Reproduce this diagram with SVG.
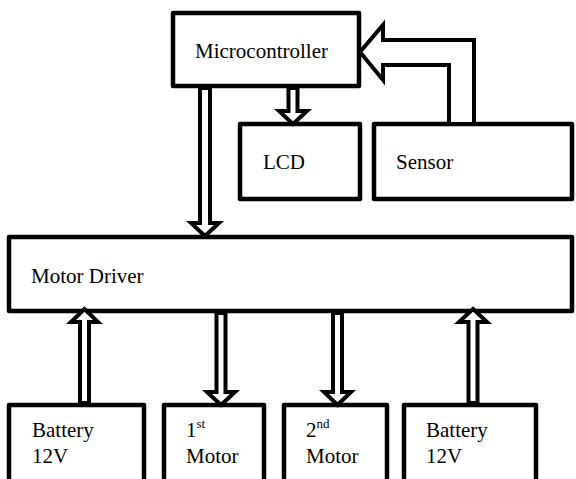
<svg xmlns="http://www.w3.org/2000/svg" width="576" height="479" viewBox="0 0 576 479">
<style>
.box{fill:#fff;stroke:#000;stroke-width:4.5;stroke-linejoin:round}
.arr{fill:#fff;stroke:#000;stroke-width:4;stroke-linejoin:miter;stroke-miterlimit:10}
text{font-family:'Liberation Serif','Times New Roman','DejaVu Serif',serif;font-size:21px;fill:#000}
.sup{font-size:13px}
</style>
<rect width="576" height="479" fill="#fff"/>
<g id="microcontroller"><rect class="box" x="173" y="13" width="186" height="73"/><text font-family="Liberation Serif, serif" x="195" y="58">Microcontroller</text></g>
<g id="lcd"><rect class="box" x="240" y="124" width="120" height="75"/><text font-family="Liberation Serif, serif" x="263" y="169">LCD</text></g>
<g id="sensor"><rect class="box" x="374" y="124" width="198" height="75"/><text font-family="Liberation Serif, serif" x="396" y="169">Sensor</text></g>
<g id="motor-driver"><rect class="box" x="9" y="237" width="563" height="74"/><text font-family="Liberation Serif, serif" x="31" y="283">Motor Driver</text></g>
<g id="battery1"><rect class="box" x="9" y="405" width="135" height="95"/><text font-family="Liberation Serif, serif" x="32" y="437">Battery</text><text font-family="Liberation Serif, serif" x="32" y="463">12V</text></g>
<g id="motor1"><rect class="box" x="164" y="405" width="100" height="95"/><text font-family="Liberation Serif, serif" x="186" y="437">1<tspan class="sup" dy="-9">st</tspan></text><text font-family="Liberation Serif, serif" x="186" y="463">Motor</text></g>
<g id="motor2"><rect class="box" x="284" y="405" width="103" height="95"/><text font-family="Liberation Serif, serif" x="306" y="437">2<tspan class="sup" dy="-9">nd</tspan></text><text font-family="Liberation Serif, serif" x="306" y="463">Motor</text></g>
<g id="battery2"><rect class="box" x="404" y="405" width="132" height="95"/><text font-family="Liberation Serif, serif" x="426" y="437">Battery</text><text font-family="Liberation Serif, serif" x="426" y="463">12V</text></g>
<g id="connectors">
<polygon class="arr" points="474,124 474,40 383,40 383,25 360,52 383,80 383,65 449,65 449,124"/>
<polygon class="arr" points="288.5,88 297.5,88 297.5,111 307,111 293,124 279,111 288.5,111"/>
<polygon class="arr" points="200,88 210,88 210,223 219,223 205,236 191,223 200,223"/>
<polygon class="arr" points="80,403 89,403 89,322 98,322 84.5,309 71,322 80,322"/>
<polygon class="arr" points="468.5,403 477.5,403 477.5,322 487,322 473,309 459,322 468.5,322"/>
<polygon class="arr" points="216.5,313 225.5,313 225.5,392 235,392 221,405 207,392 216.5,392"/>
<polygon class="arr" points="333,313 342,313 342,392 351,392 337.5,405 324,392 333,392"/>
</g>
</svg>
